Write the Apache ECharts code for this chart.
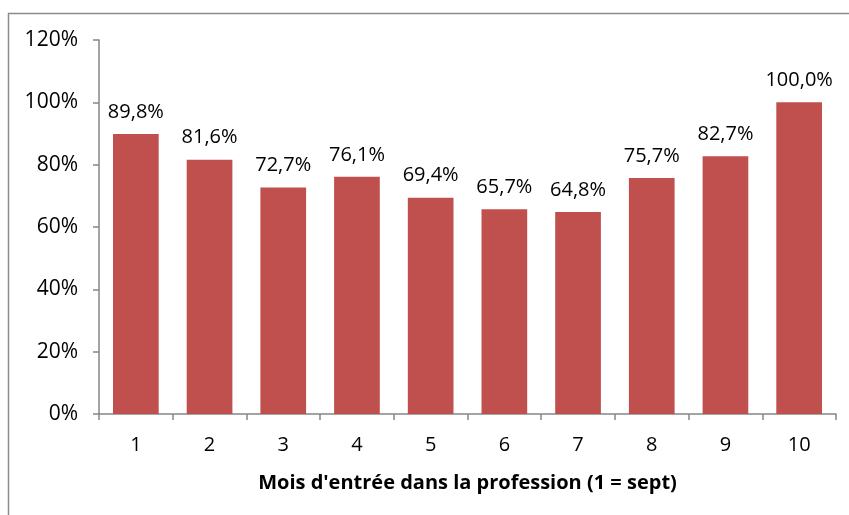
<!DOCTYPE html>
<html>
<head>
<meta charset="utf-8">
<script src="https://cdn.jsdelivr.net/npm/echarts@6/dist/echarts.min.js"></script>
<style>
  html, body { margin: 0; padding: 0; background: #fff; }
  #chart { width: 849px; height: 515px; }
</style>
</head>
<body>
<div id="chart"></div>
<script>
// mois d'entrée (1 = sept)
var categories = ['1', '2', '3', '4', '5', '6', '7', '8', '9', '10'];
var values = [89.8, 81.6, 72.7, 76.1, 69.4, 65.7, 64.8, 75.7, 82.7, 100.0];
var yTicks = [0, 20, 40, 60, 80, 100, 120];

var font = '"Open Sans", sans-serif';
var chart = echarts.init(document.getElementById('chart'));

chart.setOption({
    animation: false,
    graphic: [{
        type: 'rect',
        shape: { x: 8.5, y: 13.5, width: 900, height: 600 },
        style: { fill: 'none', stroke: '#8c8c8c', lineWidth: 1.5 },
        silent: true
    }],
    grid: { left: 99, right: 13, top: 40, bottom: 101 },
    xAxis: {
        type: 'category',
        data: categories,
        name: "Mois d'entrée dans la profession (1 = sept)",
        nameLocation: 'middle',
        nameGap: 59,
        nameTextStyle: { fontFamily: font, fontSize: 20, fontWeight: 'bold', color: '#000' },
        axisLine: { lineStyle: { color: '#868686', width: 1.5 } },
        axisTick: { show: true, length: 6, alignWithLabel: false, lineStyle: { color: '#868686', width: 1.5 } },
        axisLabel: { fontFamily: font, fontSize: 20, color: '#000', margin: 21 }
    },
    yAxis: {
        type: 'value',
        min: yTicks[0],
        max: yTicks[yTicks.length - 1],
        interval: 20,
        axisLine: { show: true, lineStyle: { color: '#868686', width: 1.5 } },
        axisTick: { show: true, length: 6, inside: false, lineStyle: { color: '#868686', width: 1.5 } },
        splitLine: { show: false },
        axisLabel: { fontFamily: font, fontSize: 21, color: '#000', margin: 21, formatter: '{value}%' }
    },
    series: [{
        type: 'bar',
        data: values,
        barWidth: '62%',
        itemStyle: { color: '#C0504D' },
        label: {
            show: true,
            position: 'top',
            distance: 12,
            fontFamily: font,
            fontSize: 20,
            color: '#000',
            formatter: function (p) { return p.value.toFixed(1).replace('.', ',') + '%'; }
        }
    }]
});
</script>
</body>
</html>
